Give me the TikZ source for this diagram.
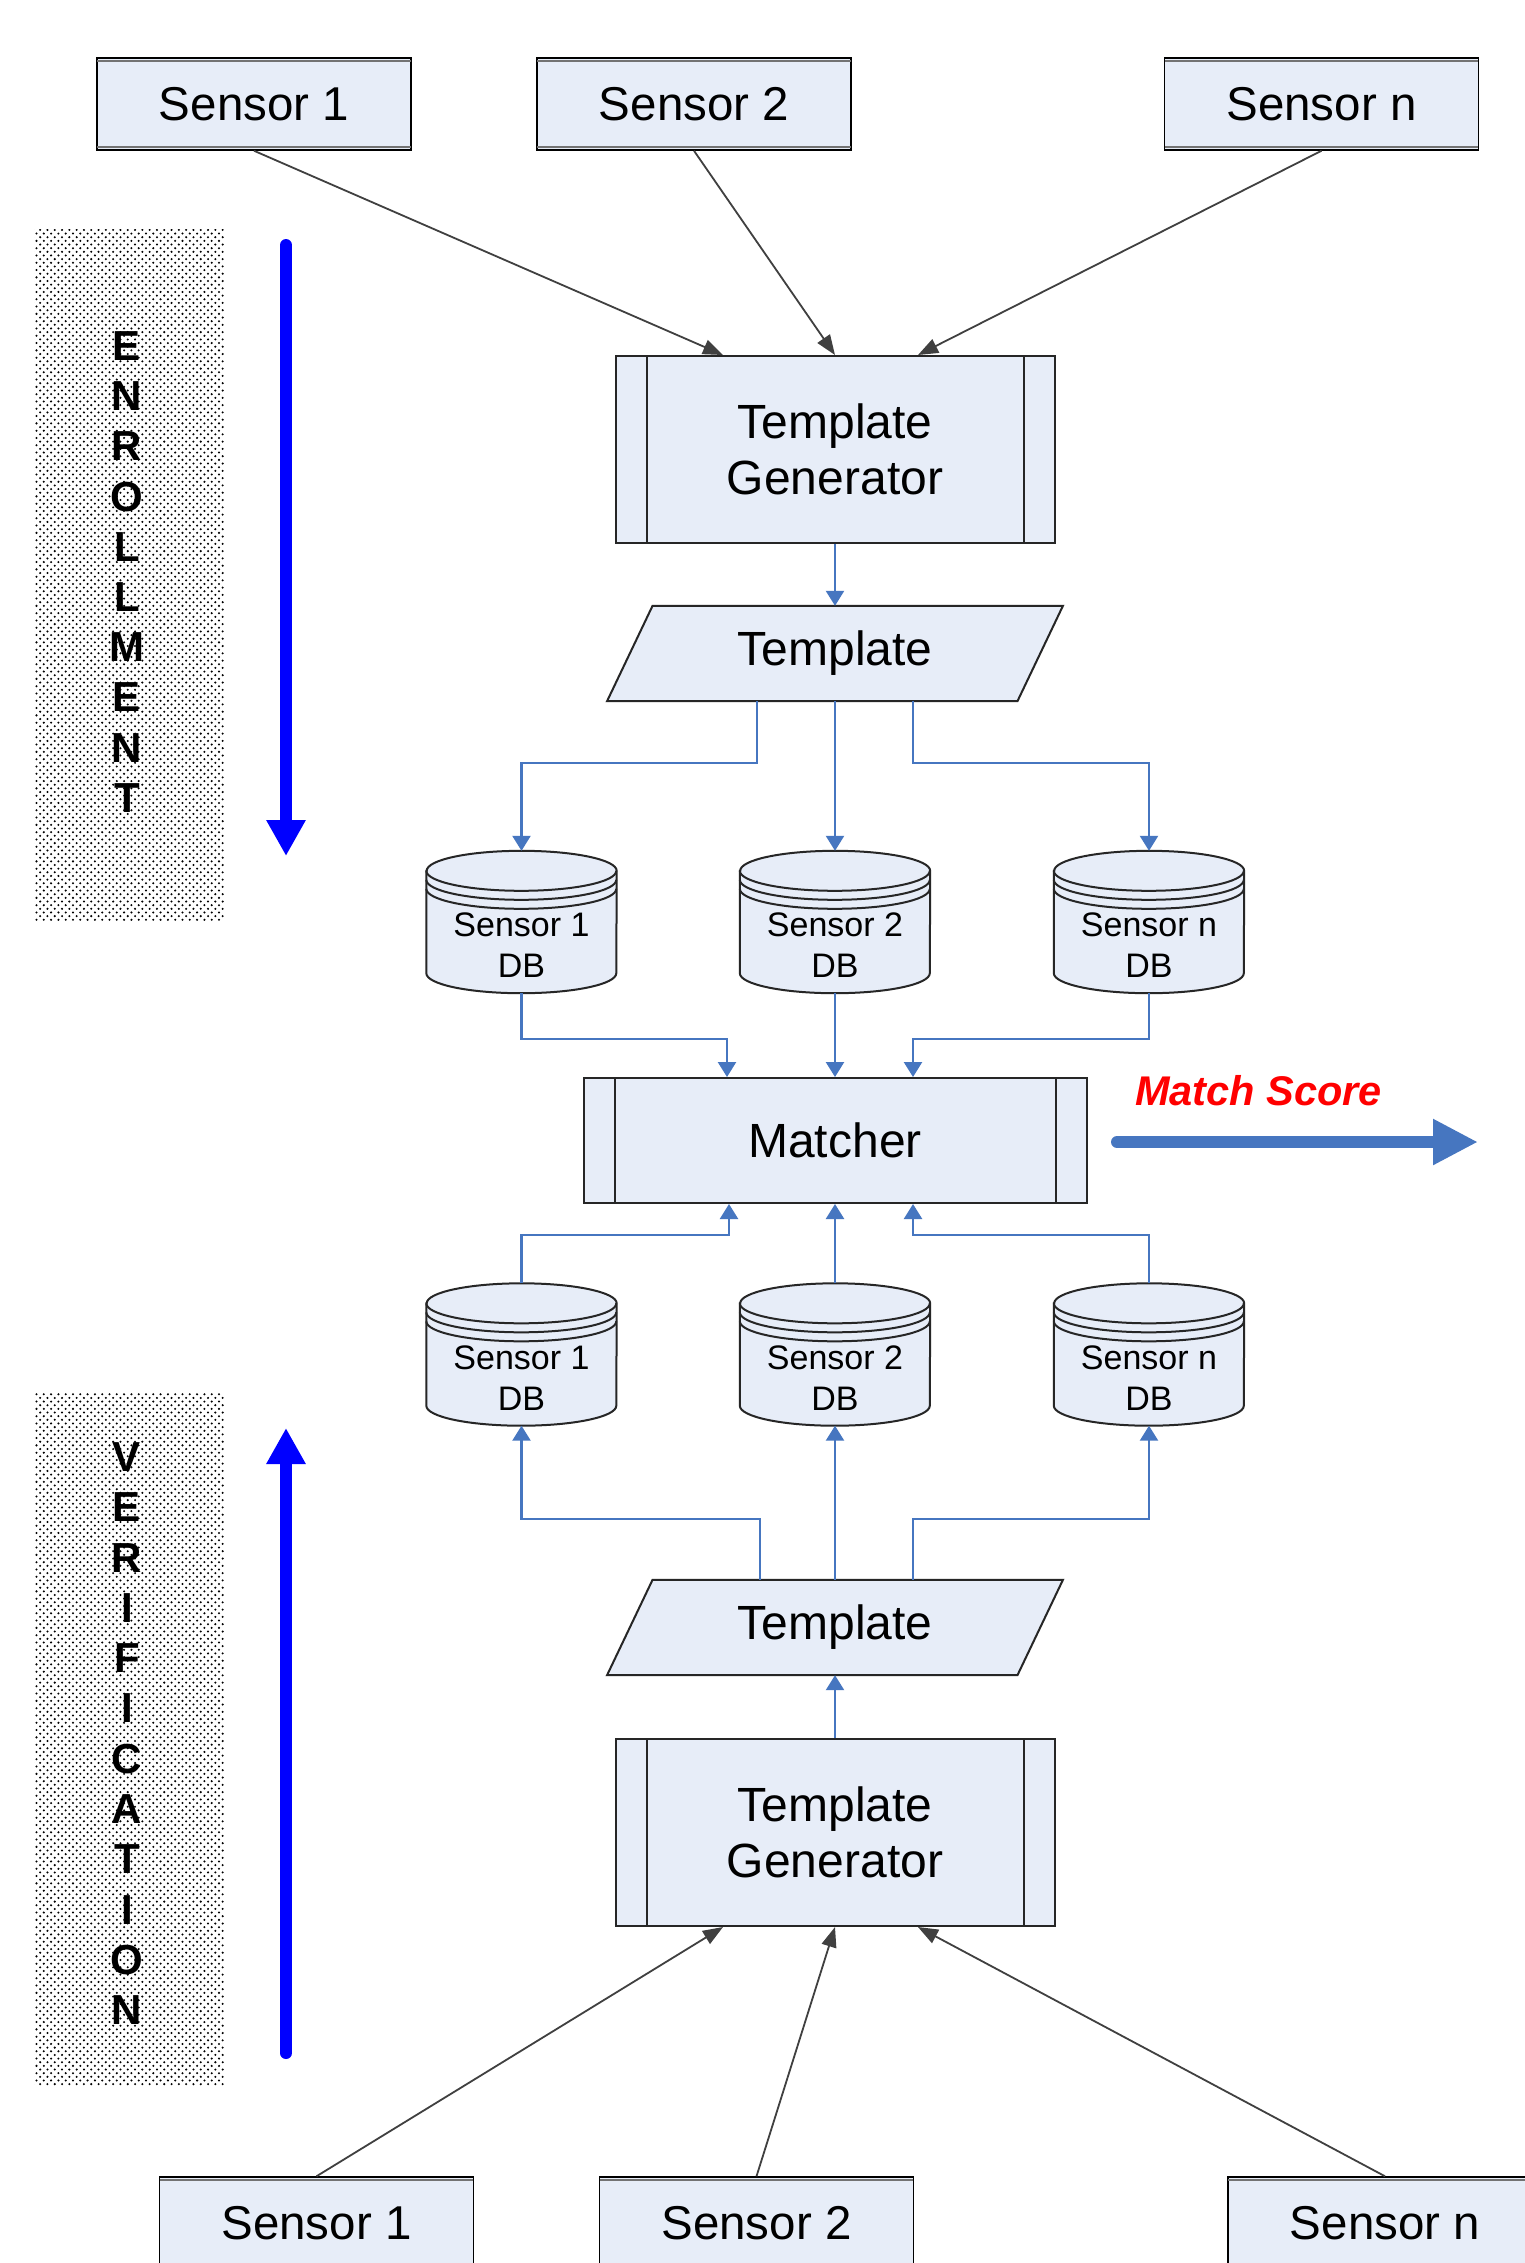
\documentclass[tikz,border=0pt]{standalone}
\usepackage{fontspec}
\setmainfont{Liberation Sans}
\usetikzlibrary{arrows.meta,calc,backgrounds,patterns}

\pgfdeclarepatternformonly{paneldots}{\pgfqpoint{-1.5pt}{-1.5pt}}{\pgfqpoint{5.8pt}{5.8pt}}{\pgfqpoint{7.3pt}{7.3pt}}{%
  \pgfpathcircle{\pgfqpoint{0pt}{0pt}}{1.15pt}%
  \pgfpathcircle{\pgfqpoint{3.65pt}{3.65pt}}{1.15pt}%
  \pgfusepath{fill}}

\definecolor{boxfill}{RGB}{231,237,248}
\definecolor{linkblue}{RGB}{70,118,192}
\definecolor{darkline}{RGB}{64,64,64}

\tikzset{
  sensorbox/.style={draw=black, line width=1.5pt, fill=boxfill, minimum width=314pt, minimum height=92pt, inner sep=0pt, font=\fontsize{47.5}{56}\selectfont},
  procbox/.style={draw=black!85, line width=2pt, fill=boxfill, inner sep=0pt, align=center, font=\fontsize{48}{56}\selectfont},
  tplnode/.style={inner sep=0pt, minimum width=410pt, minimum height=95pt, font=\fontsize{48}{56}\selectfont},
  dbnode/.style={inner sep=0pt, minimum width=190pt, minimum height=142pt},
  dbtext/.style={inner sep=0pt, align=center, font=\fontsize{34}{41}\selectfont},
  shapeline/.style={draw=black!85, line width=2pt, fill=boxfill},
  blink/.style={draw=linkblue, line width=2.4pt, -{Triangle[width=18pt,length=15pt]}},
  klink/.style={draw=darkline, line width=1.8pt, -{Triangle[width=15pt,length=20pt]}},
  phase/.style={draw=blue, line width=12pt, line cap=round, -{Triangle[width=37pt,length=36pt]}},
  scorearrow/.style={draw=linkblue, line width=12pt, line cap=round, -{Triangle[width=43pt,length=45pt]}},
  letter/.style={inner sep=0pt, font=\fontsize{42}{42}\selectfont\bfseries},
  panel/.style={pattern=paneldots, pattern color=black},
}

\newcommand{\dbcyl}[1]{%
  \filldraw[shapeline] ($(#1.north west)+(0,20)$) -- ($(#1.south west)+(0,-20)$)
     arc[start angle=180, end angle=360, x radius=95pt, y radius=20pt]
     -- ($(#1.north east)+(0,20)$)
     arc[start angle=0, end angle=180, x radius=95pt, y radius=20pt] -- cycle;
  \draw[draw=black!85, line width=2pt] ($(#1.north west)+(0,20)$) arc[start angle=180, end angle=360, x radius=95pt, y radius=20pt];
  \draw[draw=black!85, line width=2pt] ($(#1.north west)+(0,29)$) arc[start angle=180, end angle=360, x radius=95pt, y radius=20pt];
  \draw[draw=black!85, line width=2pt] ($(#1.north west)+(0,38)$) arc[start angle=180, end angle=360, x radius=95pt, y radius=20pt];
}
\newcommand{\tplshape}[1]{%
  \filldraw[shapeline] ($(#1.south west)+(-22.75,0)$) -- ($(#1.north west)+(22.75,0)$)
     -- ($(#1.north east)+(22.75,0)$) -- ($(#1.south east)+(-22.75,0)$) -- cycle;
}

\begin{document}
\begin{tikzpicture}[x=1pt,y=-1pt]
\clip (0,0) rectangle (1525,2263);

% side panels
\fill[panel] (34,229) rectangle (224,921);
\fill[panel] (34,1392) rectangle (224,2085);
\foreach \c [count=\i] in {E,N,R,O,L,L,M,E,N,T}
  \node[letter] (en\i) at (127,{346+50.2*(\i-1)}) {\c};
\foreach \c [count=\i] in {V,E,R,I,F,I,C,A,T,I,O,N}
  \node[letter] (ve\i) at (127,{1457+50.3*(\i-1)}) {\c};

\coordinate (enA) at (286,245);
\coordinate (enB) at (286,856);
\draw[phase] (enA) -- (enB);
\coordinate (veA) at (286,2053);
\coordinate (veB) at (286,1428);
\draw[phase] (veA) -- (veB);

% top sensors
\node[sensorbox] (s1) at (254,104) {Sensor 1};
\node[sensorbox] (s2) at (694,104) {Sensor 2};
\node[sensorbox] (sn) at (1321.5,104) {Sensor n};

% enrollment template generator
\node[procbox, minimum width=439pt, minimum height=187pt] (tg1) at (835,449.5) {Template\\Generator};
\node[tplnode] (tpl1) at (835,653.5) {Template};

\node[dbnode] (db1) at (521.5,922) {};
\node[dbnode] (db2) at (835,922) {};
\node[dbnode] (db3) at (1149,922) {};

\node[procbox, minimum width=503pt, minimum height=125pt] (m) at (835,1140.5) {Matcher};

\node[dbnode] (db4) at (521.5,1354.5) {};
\node[dbnode] (db5) at (835,1354.5) {};
\node[dbnode] (db6) at (1149,1354.5) {};

\node[tplnode] (tpl2) at (835,1627.5) {Template};
\node[procbox, minimum width=439pt, minimum height=187pt] (tg2) at (835,1832.5) {Template\\Generator};

% bottom sensors
\node[sensorbox] (b1) at (316.5,2223) {Sensor 1};
\node[sensorbox] (b2) at (756.5,2223) {Sensor 2};
\node[sensorbox] (bn) at (1385,2223) {Sensor n};

\begin{scope}[on background layer]
  \fill[white] (0,0) rectangle (1525,2263);
  \tplshape{tpl1}
  \tplshape{tpl2}
  \foreach \d in {db1,db2,db3,db4,db5,db6} {\dbcyl{\d}}
\end{scope}

\node[dbtext] (db1t) at ($(db1)+(0,23)$) {Sensor 1\\DB};
\node[dbtext] (db2t) at ($(db2)+(0,23)$) {Sensor 2\\DB};
\node[dbtext] (db3t) at ($(db3)+(0,23)$) {Sensor n\\DB};
\node[dbtext] (db4t) at ($(db4)+(0,24)$) {Sensor 1\\DB};
\node[dbtext] (db5t) at ($(db5)+(0,24)$) {Sensor 2\\DB};
\node[dbtext] (db6t) at ($(db6)+(0,24)$) {Sensor n\\DB};

% sensor box top/bottom shading lines
\foreach \n in {s1,s2,sn,b1,b2,bn} {
  \draw[black!55, line width=2pt] ($(\n.north west)+(1,3.5)$) -- ($(\n.north east)+(-1,3.5)$);
  \draw[black!55, line width=2pt] ($(\n.south west)+(1,-3.5)$) -- ($(\n.south east)+(-1,-3.5)$);
}
% process box inner lines
\foreach \n in {tg1,tg2,m} {
  \draw[black!85, line width=2pt] ($(\n.north west)+(32,0)$) -- ($(\n.south west)+(32,0)$);
  \draw[black!85, line width=2pt] ($(\n.north east)+(-32,0)$) -- ($(\n.south east)+(-32,0)$);
}

% sensor connectors
\draw[klink] (s1.south) -- ($(tg1.north)+(-112,0)$);
\draw[klink] (s2.south) -- (tg1.north);
\draw[klink] (sn.south) -- ($(tg1.north)+(83,0)$);
\draw[klink] (b1.north) -- ($(tg2.south)+(-112,0)$);
\draw[klink] (b2.north) -- (tg2.south);
\draw[klink] (bn.north) -- ($(tg2.south)+(83,0)$);

% enrollment blue connectors
\draw[blink] (tg1.south) -- (tpl1.north);
\draw[blink] ($(tpl1.south)+(-78,0)$) |- ($(db1.north)+(0,-88)$) -- (db1.north);
\draw[blink] (tpl1.south) -- (db2.north);
\draw[blink] ($(tpl1.south)+(78,0)$) |- ($(db3.north)+(0,-88)$) -- (db3.north);
\draw[blink] (db1.south) |- ($(m.north)+(-108,-38)$) -- ($(m.north)+(-108,0)$);
\draw[blink] (db2.south) -- (m.north);
\draw[blink] (db3.south) |- ($(m.north)+(78,-38)$) -- ($(m.north)+(78,0)$);

% verification blue connectors
\draw[blink] (db4.north) |- ($(m.south)+(-106,31)$) -- ($(m.south)+(-106,0)$);
\draw[blink] (db5.north) -- (m.south);
\draw[blink] (db6.north) |- ($(m.south)+(78,31)$) -- ($(m.south)+(78,0)$);
\draw[blink] ($(tpl2.north)+(-75,0)$) |- ($(db4.south)+(0,93)$) -- (db4.south);
\draw[blink] (tpl2.north) -- (db5.south);
\draw[blink] ($(tpl2.north)+(78,0)$) |- ($(db6.south)+(0,93)$) -- (db6.south);
\draw[blink] (tg2.north) -- (tpl2.south);

% match score
\coordinate (msA) at (1117,1142);
\coordinate (msB) at (1478,1142);
\draw[scorearrow] (msA) -- (msB);
\node[anchor=base west, text=red, inner sep=0pt, font=\fontsize{41.5}{42}\selectfont\bfseries\itshape] (mstext) at (1135,1105) {Match Score};
\end{tikzpicture}
\end{document}
